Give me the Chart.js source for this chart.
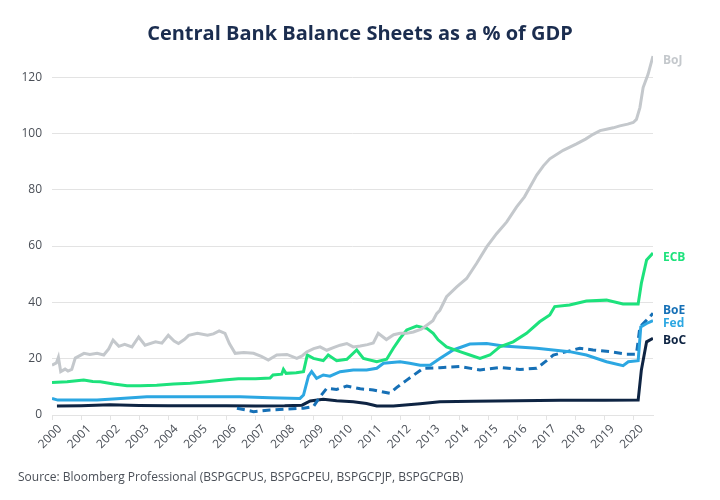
<!DOCTYPE html>
<html>
<head>
<meta charset="utf-8">
<script src="https://cdn.jsdelivr.net/npm/chart.js@4/dist/chart.umd.min.js"></script>
<style>
  html, body { margin: 0; padding: 0; background: #ffffff; }
  #wrap { width: 720px; height: 500px; position: relative; }
</style>
</head>
<body>
<div id="wrap"><canvas id="chart" width="720" height="500"></canvas></div>
<script>
// Values (% of GDP by decimal year)
var bojYears = [2000.0, 2000.15, 2000.22, 2000.3, 2000.45, 2000.55, 2000.68, 2000.8, 2001.1, 2001.3, 2001.55, 2001.78, 2001.95, 2002.1, 2002.3, 2002.5, 2002.75, 2002.98, 2003.2, 2003.56, 2003.78, 2004.0, 2004.2, 2004.35, 2004.55, 2004.7, 2005.0, 2005.35, 2005.55, 2005.75, 2005.95, 2006.1, 2006.3, 2006.6, 2006.93, 2007.2, 2007.44, 2007.73, 2008.08, 2008.42, 2008.6, 2008.76, 2009.0, 2009.22, 2009.45, 2009.7, 2009.91, 2010.14, 2010.36, 2010.6, 2010.85, 2011.05, 2011.22, 2011.5, 2011.75, 2011.97, 2012.2, 2012.43, 2012.7, 2012.89, 2013.1, 2013.23, 2013.34, 2013.57, 2013.92, 2014.26, 2014.6, 2014.95, 2015.29, 2015.64, 2015.98, 2016.25, 2016.44, 2016.67, 2016.9, 2017.12, 2017.58, 2018.04, 2018.35, 2018.61, 2018.85, 2019.07, 2019.3, 2019.53, 2019.8, 2019.99, 2020.1, 2020.22, 2020.33, 2020.5, 2020.67];
var bojValues = [17.7, 18.5, 20.5, 15.4, 16.3, 15.6, 16.2, 20.2, 21.9, 21.5, 21.9, 21.3, 23.5, 26.6, 24.4, 25.1, 24.2, 27.7, 24.8, 26, 25.5, 28.3, 26.3, 25.4, 26.8, 28.3, 29, 28.3, 28.8, 29.9, 29, 25.4, 21.9, 22.2, 21.9, 20.8, 19.5, 21.3, 21.5, 20.1, 21, 22.4, 23.6, 24.2, 23, 24, 24.8, 25.4, 24.2, 24.5, 25, 25.6, 29, 26.8, 28.5, 29, 29, 29.5, 30.5, 31.9, 33.5, 36, 37.2, 42, 45.5, 48.5, 53.8, 59.7, 64.4, 68.6, 73.9, 77.5, 81, 85.2, 88.5, 91, 94, 96.3, 98, 99.7, 101, 101.5, 102, 102.7, 103.3, 103.9, 105, 109.2, 116.3, 121, 127.5];

var ecbYears = [2000.0, 2000.52, 2001.09, 2001.4, 2001.66, 2002.12, 2002.58, 2003.03, 2003.6, 2004.18, 2004.75, 2005.33, 2005.9, 2006.41, 2007.0, 2007.5, 2007.6, 2007.9, 2007.96, 2008.05, 2008.4, 2008.65, 2008.78, 2008.99, 2009.33, 2009.5, 2009.79, 2010.14, 2010.48, 2010.71, 2011.17, 2011.51, 2011.74, 2011.97, 2012.2, 2012.54, 2012.89, 2013.11, 2013.28, 2013.57, 2014.03, 2014.37, 2014.72, 2015.06, 2015.4, 2015.86, 2016.32, 2016.77, 2017.12, 2017.29, 2017.8, 2018.38, 2019.07, 2019.64, 2020.16, 2020.27, 2020.45, 2020.67];
var ecbValues = [11.5, 11.8, 12.4, 11.9, 11.8, 11, 10.4, 10.4, 10.6, 11, 11.3, 11.8, 12.4, 12.9, 12.9, 13.1, 14.2, 14.5, 16.2, 14.8, 15, 15.4, 21.3, 20.1, 19.3, 21.3, 19.3, 19.8, 23.1, 20.1, 18.9, 19.8, 23.7, 27.2, 30.2, 31.6, 30.8, 29, 26.7, 24.2, 22.5, 21.3, 20.1, 21.3, 24.2, 26, 29, 33.1, 35.5, 38.5, 39.1, 40.5, 40.8, 39.4, 39.4, 46.8, 55.1, 57.5];

var fedYears = [2000.0, 2000.2, 2001.55, 2002.23, 2003.26, 2004.18, 2006.47, 2007.5, 2008.53, 2008.65, 2008.82, 2008.93, 2009.1, 2009.33, 2009.56, 2009.91, 2010.36, 2010.82, 2011.17, 2011.4, 2011.97, 2012.3, 2012.66, 2013.0, 2013.34, 2013.8, 2014.37, 2014.95, 2015.52, 2016.67, 2017.8, 2018.38, 2019.07, 2019.64, 2019.82, 2020.16, 2020.25, 2020.45, 2020.67];
var fedValues = [5.9, 5.3, 5.3, 5.8, 6.5, 6.5, 6.5, 6.1, 5.9, 7.1, 13.8, 15.4, 13, 14.2, 13.8, 15.4, 16, 16, 16.6, 18.4, 18.9, 18.4, 17.7, 17.7, 20.1, 23.1, 25.2, 25.4, 24.5, 23.7, 22.5, 21.3, 18.9, 17.5, 18.9, 19.3, 31.3, 32.5, 33.5];

var boeYears = [2006.36, 2006.93, 2007.5, 2008.08, 2008.65, 2008.99, 2009.22, 2009.45, 2009.79, 2010.14, 2010.6, 2011.05, 2011.62, 2011.86, 2012.2, 2012.77, 2013.34, 2014.03, 2014.72, 2015.4, 2016.09, 2016.67, 2017.01, 2017.24, 2017.7, 2018.15, 2018.61, 2019.18, 2019.76, 2020.1, 2020.22, 2020.45, 2020.67];
var boeValues = [2.4, 1.2, 1.8, 2.1, 2.4, 3, 6.5, 9.5, 9.1, 10.3, 9.3, 8.9, 7.7, 9.8, 12.4, 16.6, 16.8, 17.2, 16, 16.9, 16.2, 16.6, 19.3, 21.3, 22.5, 23.7, 23.1, 22.5, 21.6, 21.6, 31.3, 33.7, 36.1];

var bocYears = [2000.17, 2001.0, 2002.0, 2003.0, 2004.0, 2005.0, 2006.0, 2007.0, 2008.0, 2008.6, 2008.88, 2009.33, 2009.79, 2010.36, 2010.82, 2011.17, 2011.74, 2012.66, 2013.34, 2014.5, 2016.0, 2017.5, 2019.0, 2020.16, 2020.27, 2020.45, 2020.67];
var bocValues = [3.2, 3.3, 3.6, 3.4, 3.3, 3.3, 3.3, 3.2, 3.3, 3.5, 5.0, 5.6, 5.1, 4.7, 4.1, 3.2, 3.2, 4.0, 4.7, 4.9, 5.1, 5.2, 5.2, 5.3, 16, 26, 27.2];

var seriesNames = ['BoJ', 'ECB', 'Fed', 'BoE', 'BoC'];
var seriesColors = ['#c4c8cc', '#1de27c', '#2ca7e2', '#1670b6', '#0e2443'];

function points(xs, ys) {
    return xs.map(function(x, i) { return { x: x, y: ys[i] }; });
}

var FONT = '"Open Sans", Lato, sans-serif';

// end labels drawn next to the last point of each line
var endLabels = {
    id: 'endLabels',
    afterDatasetsDraw: function(chart) {
        var ctx = chart.ctx;
        var nudge = { BoJ: 5, ECB: 4, BoE: -3, Fed: 3, BoC: 2 };
        ctx.save();
        ctx.font = 'bold 12px ' + FONT;
        ctx.textBaseline = 'middle';
        ctx.textAlign = 'left';
        chart.data.datasets.forEach(function(ds, i) {
            var meta = chart.getDatasetMeta(i);
            var last = meta.data[meta.data.length - 1];
            ctx.fillStyle = ds.borderColor;
            ctx.fillText(ds.label, chart.chartArea.right + 10, last.y + nudge[ds.label]);
        });
        ctx.restore();
    }
};

// title and source line
var texts = {
    id: 'texts',
    afterDraw: function(chart) {
        var ctx = chart.ctx;
        ctx.save();
        ctx.fillStyle = '#1b2d4f';
        ctx.font = 'bold 20px ' + FONT;
        ctx.textAlign = 'center';
        ctx.textBaseline = 'middle';
        ctx.fillText('Central Bank Balance Sheets as a % of GDP', 360, 34);
        ctx.fillStyle = '#4a4f57';
        ctx.font = '12px ' + FONT;
        ctx.textAlign = 'left';
        ctx.fillText('Source: Bloomberg Professional (BSPGCPUS, BSPGCPEU, BSPGCPJP, BSPGCPGB)', 18, 478);
        ctx.restore();
    }
};

var allYears = [bojYears, ecbYears, fedYears, boeYears, bocYears];
var allValues = [bojValues, ecbValues, fedValues, boeValues, bocValues];

var ctx = document.getElementById('chart').getContext('2d');
var chart = new Chart(ctx, {
    type: 'line',
    data: {
        datasets: seriesNames.map(function(name, i) {
            return {
                label: name,
                data: points(allYears[i], allValues[i]),
                borderColor: seriesColors[i],
                borderWidth: 3,
                borderDash: name === 'BoE' ? [8, 5] : [],
                pointRadius: 0,
                tension: 0,
                fill: false
            };
        })
    },
    options: {
        responsive: false,
        animation: false,
        layout: { padding: { top: 49, right: 67, left: 0, bottom: 0 } },
        plugins: {
            legend: { display: false },
            tooltip: { enabled: false }
        },
        scales: {
            x: {
                type: 'linear',
                min: 2000,
                max: 2020.67,
                afterFit: function(scale) { scale.height = 85; },
                grid: { drawOnChartArea: false, drawTicks: true, tickLength: 5, color: '#e3e3e3' },
                border: { display: true, color: '#e3e3e3' },
                ticks: {
                    stepSize: 1,
                    includeBounds: false,
                    minRotation: 45,
                    maxRotation: 45,
                    padding: 2,
                    labelOffset: 8,
                    color: '#4a4f57',
                    font: { family: FONT, size: 12 },
                    callback: function(v) { return String(v); }
                }
            },
            y: {
                min: 0,
                max: 130,
                afterFit: function(scale) { scale.width = 52; },
                afterBuildTicks: function(scale) {
                    scale.ticks = scale.ticks.filter(function(t) { return t.value % 20 === 0; });
                },
                grid: { color: '#e3e3e3', drawTicks: false, lineWidth: 1 },
                border: { display: false },
                ticks: {
                    stepSize: 20,
                    includeBounds: false,
                    padding: 10,
                    color: '#4a4f57',
                    font: { family: FONT, size: 12 }
                }
            }
        }
    },
    plugins: [endLabels, texts]
});
</script>
</body>
</html>
